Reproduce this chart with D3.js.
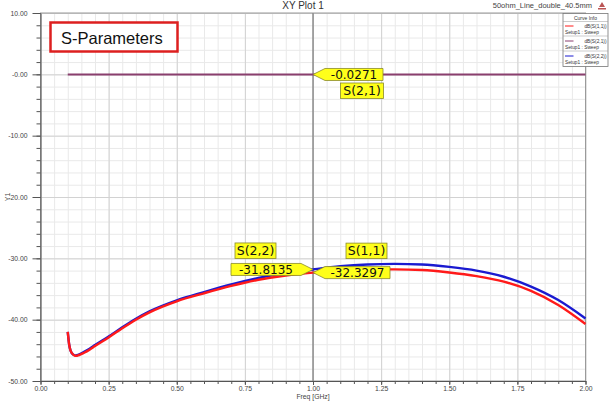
<!DOCTYPE html>
<html>
<head>
<meta charset="utf-8">
<script src="https://cdn.jsdelivr.net/npm/d3@7"></script>
<style>
  body { margin: 0; background: #fff; }
  svg { display: block; font-family: "Liberation Sans", Arial, sans-serif; }
</style>
</head>
<body>
<div id="chart"></div>
<script>
// frequency sweep (GHz)
const freq = [0.10, 0.105, 0.11, 0.12, 0.13, 0.14, 0.16, 0.18, 0.20, 0.25, 0.30, 0.35, 0.40, 0.50, 0.60, 0.70, 0.80, 0.90, 1.00, 1.10, 1.20, 1.30, 1.40, 1.50, 1.60, 1.70, 1.80, 1.90, 2.00]
const s11 = [-42.0, -44.0, -45.0, -45.7, -45.9, -45.8, -45.4, -44.9, -44.3, -42.9, -41.4, -40.0, -38.8, -37.0, -35.7, -34.5, -33.5, -32.8, -32.3297, -32.0, -31.8, -31.8, -31.9, -32.3, -32.9, -33.8, -35.3, -37.6, -40.7]
const s22 = [-42.0, -44.0, -45.0, -45.7, -45.85, -45.7, -45.25, -44.75, -44.15, -42.75, -41.25, -39.85, -38.65, -36.85, -35.5, -34.25, -33.2, -32.4, -31.8135, -31.3, -31.0, -30.9, -31.0, -31.4, -32.0, -33.0, -34.6, -36.8, -39.8]
const freq21 = [0.10, 0.50, 1.00, 1.50, 2.00]
const s21 = [-0.020, -0.024, -0.0271, -0.030, -0.034]

const xTicks = [0, 0.25, 0.5, 0.75, 1.0, 1.25, 1.5, 1.75, 2.0]
const xTickLabels = ["0.00", "0.25", "0.50", "0.75", "1.00", "1.25", "1.50", "1.75", "2.00"]
const yTicks = [10, 0, -10, -20, -30, -40, -50]
const yTickLabels = ["10.00", "-0.00", "-10.00", "-20.00", "-30.00", "-40.00", "-50.00"]

const curves = [
    { name: "dB(S(1,1))", color: "#ff1a1a" },
    { name: "dB(S(2,1))", color: "#8a3f6e" },
    { name: "dB(S(2,2))", color: "#1a1ad0" }
]

const markerFreq = 1.0

let w = 610
let h = 401
let pLeft = 40.5, pRight = 585.5, pTop = 13, pBottom = 381

const svg = d3.select("#chart").append("svg")
    .attr("width", w)
    .attr("height", h)

const x = d3.scaleLinear().domain([0, 2]).range([pLeft, pRight])
const y = d3.scaleLinear().domain([-50, 10]).range([pBottom, pTop])

// grid
const xMinor = d3.range(0, 2.0001, 0.05)
const yMinor = d3.range(-50, 10.001, 2)

svg.append("g")
    .attr("transform", `translate(0, ${pBottom})`)
    .call(d3.axisBottom(x).tickValues(xMinor).tickSize(-(pBottom - pTop)).tickFormat(""))
    .call(g => g.select(".domain").remove())
    .selectAll("line").attr("stroke", "#e9e9e9")
svg.append("g")
    .attr("transform", `translate(${pLeft}, 0)`)
    .call(d3.axisLeft(y).tickValues(yMinor).tickSize(-(pRight - pLeft)).tickFormat(""))
    .call(g => g.select(".domain").remove())
    .selectAll("line").attr("stroke", "#e9e9e9")
svg.append("g")
    .attr("transform", `translate(0, ${pBottom})`)
    .call(d3.axisBottom(x).tickValues(xTicks).tickSize(-(pBottom - pTop)).tickFormat(""))
    .call(g => g.select(".domain").remove())
    .selectAll("line").attr("stroke", "#d2d2d2")
svg.append("g")
    .attr("transform", `translate(${pLeft}, 0)`)
    .call(d3.axisLeft(y).tickValues(yTicks).tickSize(-(pRight - pLeft)).tickFormat(""))
    .call(g => g.select(".domain").remove())
    .selectAll("line").attr("stroke", "#d2d2d2")

// frame
svg.append("rect")
    .attr("x", pLeft).attr("y", pTop)
    .attr("width", pRight - pLeft).attr("height", pBottom - pTop)
    .attr("fill", "none").attr("stroke", "#9a9a9a").attr("stroke-width", 1)

// axes
const yAxisG = svg.append("g").attr("transform", `translate(${pLeft}, 0)`)
yAxisG.call(d3.axisLeft(y).tickValues(yMinor).tickSize(4).tickSizeOuter(0).tickFormat(""))
yAxisG.append("g").call(d3.axisLeft(y).tickValues(yTicks).tickSize(8).tickSizeOuter(0)
    .tickFormat((d, i) => yTickLabels[i]))
    .call(g => g.select(".domain").remove())
yAxisG.selectAll("line, path").attr("stroke", "#555")
yAxisG.selectAll("text").attr("font-size", 6.8).attr("fill", "#444")
    .attr("font-family", "Liberation Sans, Arial, sans-serif").attr("dx", -2)

const xAxisG = svg.append("g").attr("transform", `translate(0, ${pBottom})`)
xAxisG.call(d3.axisBottom(x).tickValues(xMinor).tickSize(3).tickSizeOuter(0).tickFormat(""))
xAxisG.append("g").call(d3.axisBottom(x).tickValues(xTicks).tickSize(4).tickSizeOuter(0)
    .tickFormat((d, i) => xTickLabels[i]))
    .call(g => g.select(".domain").remove())
xAxisG.selectAll("line, path").attr("stroke", "#555")
xAxisG.selectAll("text").attr("font-size", 6.8).attr("fill", "#444")
    .attr("font-family", "Liberation Sans, Arial, sans-serif").attr("dy", "0.5em")

svg.append("text")
    .attr("x", x(1.0)).attr("y", 398.5)
    .attr("text-anchor", "middle").attr("font-size", 6.8).attr("fill", "#444")
    .text("Freq [GHz]")

svg.append("text")
    .attr("transform", `translate(10, ${(pTop + pBottom) / 2}) rotate(-90)`)
    .attr("text-anchor", "middle").attr("font-size", 6.8).attr("fill", "#444")
    .text("Y1")

// titles
svg.append("text")
    .attr("x", 303).attr("y", 8.5)
    .attr("text-anchor", "middle").attr("font-size", 10).attr("fill", "#333")
    .text("XY Plot 1")
svg.append("text")
    .attr("x", 592).attr("y", 8)
    .attr("text-anchor", "end").attr("font-size", 7.5).attr("fill", "#444")
    .text("50ohm_Line_double_40.5mm")
svg.append("path")
    .attr("d", "M599,7 L602,2 L605,7 Z M598,8 h8 v1.5 h-8 Z")
    .attr("fill", "#b55")

// marker line
svg.append("line")
    .attr("x1", x(markerFreq)).attr("x2", x(markerFreq))
    .attr("y1", pTop).attr("y2", pBottom)
    .attr("stroke", "#8c8c8c").attr("stroke-width", 1.5)

// curves
const line = d3.line().x(d => x(d[0])).y(d => y(d[1])).curve(d3.curveMonotoneX)

svg.append("path")
    .datum(freq21.map((f, i) => [f, s21[i]]))
    .attr("d", line).attr("fill", "none")
    .attr("stroke", curves[1].color).attr("stroke-width", 2)
svg.append("path")
    .datum(freq.map((f, i) => [f, s22[i]]))
    .attr("d", line).attr("fill", "none")
    .attr("stroke", curves[2].color).attr("stroke-width", 2.4)
svg.append("path")
    .datum(freq.map((f, i) => [f, s11[i]]))
    .attr("d", line).attr("fill", "none")
    .attr("stroke", curves[0].color).attr("stroke-width", 2.4)

// S-Parameters label box
svg.append("rect")
    .attr("x", 50.5).attr("y", 22.5).attr("width", 127).attr("height", 29)
    .attr("fill", "#fff").attr("stroke", "#dd1f1f").attr("stroke-width", 2.5)
svg.append("text")
    .attr("x", 61).attr("y", 43.5)
    .attr("font-size", 16.5).attr("fill", "#111")
    .text("S-Parameters")

// markers
const markerFont = "DejaVu Sans, sans-serif"
const boxFill = "#ffff1a", boxStroke = "#8a8a2a"

function valueTag(val, dir, boxW) {
    // dir = 1 -> box to the right of the point, tip on the left
    const px = x(markerFreq), py = y(val)
    const hh = 6, tip = 12
    const x0 = px + dir * tip, x1 = px + dir * (tip + boxW)
    const pts = [[px, py], [x0, py - hh], [x1, py - hh], [x1, py + hh], [x0, py + hh]]
    svg.append("polygon")
        .attr("points", pts.map(p => p.join(",")).join(" "))
        .attr("fill", boxFill).attr("stroke", boxStroke).attr("stroke-width", 0.8)
    svg.append("text")
        .attr("x", (x0 + x1) / 2).attr("y", py + 4.5)
        .attr("text-anchor", "middle").attr("font-family", markerFont)
        .attr("font-size", 12).attr("fill", "#111")
        .text(val.toFixed(4))
}

function nameTag(label, bx, by, bw) {
    svg.append("rect")
        .attr("x", bx).attr("y", by).attr("width", bw).attr("height", 15.5)
        .attr("fill", boxFill).attr("stroke", boxStroke).attr("stroke-width", 0.8)
    svg.append("text")
        .attr("x", bx + bw / 2).attr("y", by + 12)
        .attr("text-anchor", "middle").attr("font-family", markerFont)
        .attr("font-size", 12.5).attr("fill", "#111")
        .text(label)
}

const v21 = s21[freq21.indexOf(markerFreq)]
const v22 = s22[freq.indexOf(markerFreq)]
const v11 = s11[freq.indexOf(markerFreq)]

valueTag(v21, 1, 58)
nameTag("S(2,1)", x(markerFreq) + 27.5, y(v21) + 8.5, 43)
valueTag(v22, -1, 70)
nameTag("S(2,2)", x(markerFreq) - 78, y(v22) - 26.5, 41)
valueTag(v11, 1, 65)
nameTag("S(1,1)", x(markerFreq) + 33, y(v11) - 29.5, 41)

// legend
const lg = svg.append("g").attr("transform", "translate(563, 13.5)")
lg.append("rect").attr("width", 45).attr("height", 53)
    .attr("fill", "#fff").attr("stroke", "#777").attr("stroke-width", 0.8)
lg.append("text").attr("x", 22.5).attr("y", 6).attr("text-anchor", "middle")
    .attr("font-size", 5).attr("fill", "#333").text("Curve Info")
lg.append("line").attr("x1", 0).attr("x2", 45).attr("y1", 8).attr("y2", 8)
    .attr("stroke", "#999").attr("stroke-width", 0.5)
curves.forEach((c, i) => {
    const yy = 9 + i * 15
    lg.append("line").attr("x1", 2).attr("x2", 10.5).attr("y1", yy + 3.5).attr("y2", yy + 3.5)
        .attr("stroke", c.color).attr("stroke-width", 1)
    lg.append("text").attr("x", 43.5).attr("y", yy + 5).attr("text-anchor", "end")
        .attr("font-size", 4.8).attr("fill", "#333").text(c.name)
    lg.append("text").attr("x", 2).attr("y", yy + 11)
        .attr("font-size", 4.8).attr("fill", "#333").text("Setup1 : Sweep")
    if (i < 2) {
        lg.append("line").attr("x1", 0).attr("x2", 45).attr("y1", yy + 13.5).attr("y2", yy + 13.5)
            .attr("stroke", "#999").attr("stroke-width", 0.5)
    }
})
</script>
</body>
</html>
